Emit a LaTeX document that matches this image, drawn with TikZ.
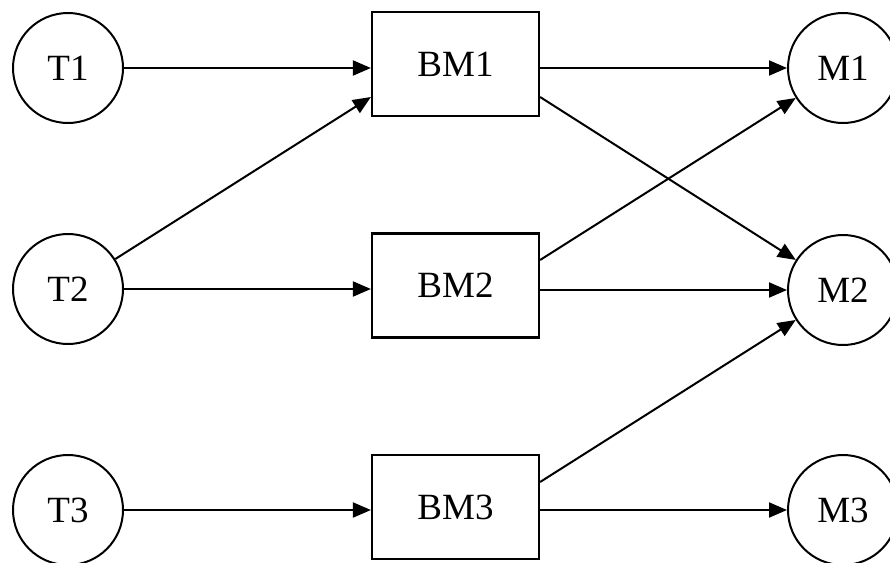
\documentclass[tikz,border=0pt]{standalone}
\usepackage{fontspec}
\setmainfont{Liberation Serif}
\usetikzlibrary{arrows.meta}
\begin{document}
\begin{tikzpicture}[x=1pt,y=1pt,
  circ/.style={draw,circle,line width=2pt,minimum size=110pt,inner sep=0pt,font=\fontsize{37}{40}\selectfont},
  boxn/.style={draw,rectangle,line width=2.2pt,minimum width=167pt,minimum height=104pt,inner sep=0pt,font=\fontsize{37}{40}\selectfont},
  arr/.style={line width=2pt,-{Triangle[length=18pt,width=15pt]}}]
\useasboundingbox[fill=white] (0,0) rectangle (890,-562);
\node[circ] (T1) at (68,-68) {T1};
\node[circ] (T2) at (68,-289) {T2};
\node[circ] (T3) at (68,-510) {T3};
\node[boxn] (BM1) at (455.5,-64) {BM1};
\node[boxn] (BM2) at (455.5,-285.5) {BM2};
\node[boxn] (BM3) at (455.5,-507) {BM3};
\node[circ] (M1) at (843,-68) {M1};
\node[circ] (M2) at (843,-290) {M2};
\node[circ] (M3) at (843,-510) {M3};
\draw[arr] (T1) -- (T1 -| BM1.west);
\draw[arr] (T2) -- (T2 -| BM2.west);
\draw[arr] (T3) -- (T3 -| BM3.west);
\draw[arr] (T2) -- ([yshift=-33pt]BM1.west);
\draw[arr] (BM1.east |- M1) -- (M1);
\draw[arr] (BM2.east |- M2) -- (M2);
\draw[arr] (BM3.east |- M3) -- (M3);
\draw[arr] ([yshift=-33pt]BM1.east) -- (M2);
\draw[arr] ([yshift=25.5pt]BM2.east) -- (M1);
\draw[arr] ([yshift=25pt]BM3.east) -- (M2);
\end{tikzpicture}
\end{document}
